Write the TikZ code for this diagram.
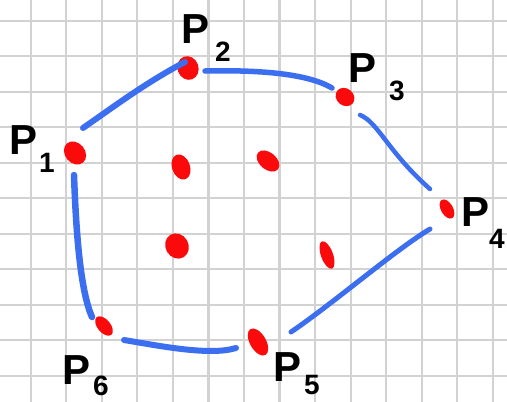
\documentclass[tikz,border=0pt]{standalone}
\usepackage{fontspec}
\setmainfont{Liberation Sans}
\usetikzlibrary{shapes.geometric}
\definecolor{gridgray}{RGB}{210,210,210}
\definecolor{hullblue}{RGB}{60,110,240}
\definecolor{dotred}{RGB}{250,10,10}
\begin{document}
\begin{tikzpicture}[x=1pt,y=-1pt,
  gridline/.style={gridgray,line width=2.2pt},
  hull/.style={hullblue,line width=6pt,line cap=round,line join=round},
  dot/.style={ellipse,fill=dotred,inner sep=0pt},
  plabel/.style={font=\fontsize{42}{42}\selectfont\bfseries,inner sep=0pt,text=black},
  psub/.style={font=\fontsize{28}{28}\selectfont\bfseries,inner sep=0pt,text=black}]
\fill[white] (0,0) rectangle (507,402);
\useasboundingbox (0,0) rectangle (507,402);
% grid
\foreach \k in {0,...,13} \draw[gridline] ({30.7+35.55*\k},0) -- ({30.7+35.55*\k},402);
\foreach \k in {0,...,10} \draw[gridline] (0,{20.7+35.5*\k}) -- (507,{20.7+35.5*\k});
% hull points
\node[dot,minimum width=20pt,minimum height=25pt,rotate=40] (p1) at (75,153) {};
\node[dot,minimum width=21pt,minimum height=24pt,rotate=20] (p2) at (188,68) {};
\node[dot,minimum width=17pt,minimum height=20pt,rotate=50] (p3) at (345,97) {};
\node[dot,minimum width=12pt,minimum height=21pt,rotate=30] (p4) at (447,209) {};
\node[dot,minimum width=16pt,minimum height=30pt,rotate=30] (p5) at (258,342) {};
\node[dot,minimum width=13pt,minimum height=23pt,rotate=40] (p6) at (104,326) {};
% interior points
\node[dot,minimum width=18pt,minimum height=26pt,rotate=20] (q1) at (181,167) {};
\node[dot,minimum width=17pt,minimum height=26pt,rotate=50] (q2) at (268,161) {};
\node[dot,minimum width=23pt,minimum height=26pt,rotate=30] (q3) at (177,246) {};
\node[dot,minimum width=12pt,minimum height=29pt,rotate=20] (q4) at (327,255) {};
% hull connector ends
\coordinate (a12) at (83,128);  \coordinate (b12) at (185,62);
\coordinate (a23) at (205,71);  \coordinate (b23) at (332,88);
\coordinate (a34) at (360,115); \coordinate (b34) at (430,189);
\coordinate (a45) at (430,229); \coordinate (b45) at (291,332);
\coordinate (a56) at (236,348); \coordinate (b56) at (124,340);
\coordinate (a61) at (92,317);  \coordinate (b61) at (74,175);
\draw[hull] (a12) .. controls (112,108) and (145,83) .. (b12);
\draw[hull,line width=5.5pt] (a23) .. controls (250,70) and (305,72) .. (b23);
\draw[hull,line width=4.5pt] (a34) .. controls (378,122) and (388,152) .. (b34);
\draw[hull,line width=5pt] (a45) .. controls (395,250) and (335,302) .. (b45);
\draw[hull] (a56) .. controls (210,356) and (160,346) .. (b56);
\draw[hull,line width=6.5pt] (a61) .. controls (80,290) and (76,230) .. (b61);
% labels
\node[plabel] (l1) at (24,140) {P};  \node[psub] (s1) at (47,163) {1};
\node[plabel] (l2) at (196,29) {P};  \node[psub] (s2) at (223,52) {2};
\node[plabel] (l3) at (363,68) {P};  \node[psub] (s3) at (397,91) {3};
\node[plabel] (l4) at (476,212) {P}; \node[psub] (s4) at (497,239) {4};
\node[plabel] (l5) at (288,367) {P}; \node[psub] (s5) at (312,385) {5};
\node[plabel] (l6) at (77,370) {P};  \node[psub] (s6) at (101,386) {6};
\end{tikzpicture}
\end{document}
